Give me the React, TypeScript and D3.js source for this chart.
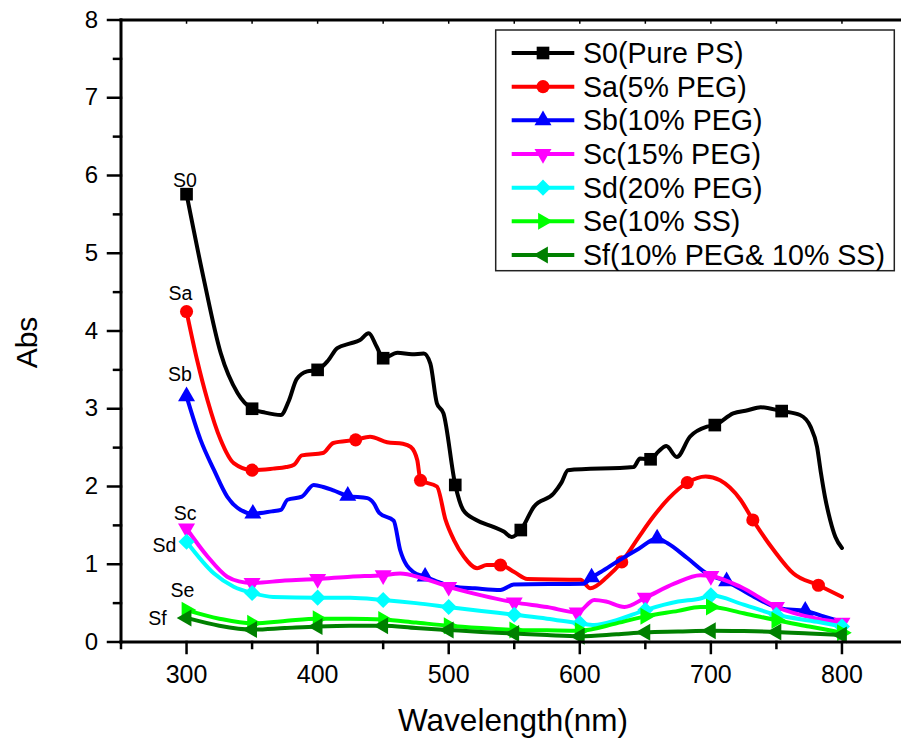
import React from 'react';
import * as d3 from 'd3';

// ---------- data ----------
const X_MAJOR_TICKS = [300, 400, 500, 600, 700, 800];
const X_MINOR_TICKS = [250, 350, 450, 550, 650, 750];
const Y_MAJOR_TICKS = [0, 1, 2, 3, 4, 5, 6, 7, 8];
const Y_MINOR_TICKS = [0.5, 1.5, 2.5, 3.5, 4.5, 5.5, 6.5, 7.5];

const SERIES_NAMES = [
  'S0(Pure PS)',
  'Sa(5% PEG)',
  'Sb(10% PEG)',
  'Sc(15% PEG)',
  'Sd(20% PEG)',
  'Se(10% SS)',
  'Sf(10% PEG& 10% SS)',
];
const SERIES_TAGS = ['S0', 'Sa', 'Sb', 'Sc', 'Sd', 'Se', 'Sf'];

const S0_POINTS: [number, number][] = [
  [300, 5.76], [313, 4.68], [326, 3.72], [339, 3.2], [350, 3.0], [360, 2.95], [372, 2.92],
  [378, 3.1], [384, 3.38], [392, 3.48], [400, 3.5], [408, 3.62], [415, 3.78], [425, 3.84],
  [432, 3.88], [439, 3.97], [445, 3.8], [450, 3.65], [461, 3.72], [472, 3.7], [481, 3.71],
  [486, 3.58], [491, 3.07], [496, 2.94], [505, 2.02], [511, 1.7], [521, 1.57], [534, 1.48],
  [542, 1.42], [548, 1.35], [555, 1.44], [565, 1.74], [580, 1.91], [586, 2.05], [591, 2.21],
  [641, 2.25], [646, 2.36], [654, 2.35], [660, 2.45], [666, 2.52], [674, 2.38], [684, 2.64],
  [697, 2.77], [703, 2.79], [717, 2.94], [728, 2.98], [738, 3.02], [754, 2.97], [768, 2.92],
  [776, 2.77], [781, 2.51], [784, 2.17], [787, 1.87], [791, 1.57], [795, 1.35], [800, 1.21],
];
const S0_MARKERS = [300, 350, 400, 450, 505, 555, 654, 703, 754];

const SA_POINTS: [number, number][] = [
  [300, 4.25], [308, 3.63], [316, 3.11], [326, 2.6], [336, 2.3], [350, 2.21], [366, 2.23],
  [376, 2.25], [382, 2.28], [388, 2.4], [404, 2.43], [412, 2.56], [429, 2.6], [440, 2.64],
  [453, 2.57], [465, 2.55], [471, 2.51], [476, 2.34], [478.5, 2.08], [491, 2.0], [497.6, 1.57],
  [504, 1.31], [511.5, 1.1], [521.7, 0.95], [529, 0.99], [539.5, 0.99], [550, 0.9], [560, 0.81],
  [600.5, 0.8], [608, 0.69], [621, 0.84], [632, 1.03], [645, 1.35], [656, 1.61], [668, 1.85],
  [682, 2.05], [696, 2.13], [707, 2.08], [722.6, 1.83], [732, 1.57], [748, 1.18], [763, 0.88],
  [782, 0.73], [800, 0.58],
];
const SA_MARKERS = [300, 350, 429, 478.5, 539.5, 632, 682, 732, 782];

const SB_POINTS: [number, number][] = [
  [300, 3.16], [310.7, 2.6], [321, 2.21], [331, 1.87], [341, 1.7], [350.6, 1.65], [365, 1.68],
  [372, 1.7], [377, 1.83], [388, 1.87], [397, 2.02], [405, 1.99], [412, 1.95], [423, 1.88],
  [438, 1.85], [443, 1.78], [447, 1.66], [458, 1.56], [463, 1.18], [473, 0.9], [482, 0.84],
  [494, 0.76], [504, 0.71], [520, 0.69], [539.5, 0.67], [549.6, 0.74], [603, 0.75], [609, 0.83],
  [616, 0.9], [630, 1.05], [645, 1.2], [659, 1.33], [667, 1.27], [682, 1.08], [697, 0.88],
  [712, 0.78], [733, 0.58], [753, 0.43], [772, 0.4], [786, 0.33], [800, 0.26],
];
const SB_MARKERS = [300, 350.6, 423, 482, 609, 659, 712, 772];

const SC_POINTS: [number, number][] = [
  [300, 1.46], [316, 1.1], [331, 0.84], [340, 0.78], [350, 0.76], [375, 0.79], [400, 0.81],
  [425, 0.84], [450, 0.86], [463, 0.88], [480, 0.82], [500, 0.71], [525, 0.6], [550, 0.51],
  [575, 0.45], [598, 0.38], [611, 0.54], [620, 0.52], [634, 0.45], [650, 0.57], [672, 0.75],
  [692, 0.86], [700, 0.85], [722.6, 0.71], [750, 0.45], [781, 0.3], [800, 0.25],
];
const SC_MARKERS = [300, 350, 400, 450, 500, 550, 598, 650, 700, 750, 800];

const SD_POINTS: [number, number][] = [
  [300, 1.29], [321, 0.88], [336, 0.71], [350, 0.63], [366, 0.58], [400, 0.57], [425, 0.57],
  [450, 0.54], [475, 0.5], [500, 0.45], [525, 0.4], [550, 0.35], [575, 0.3], [600, 0.24],
  [611, 0.22], [628, 0.28], [650, 0.41], [675, 0.52], [692, 0.56], [700, 0.6], [725, 0.48],
  [750, 0.35], [781, 0.26], [800, 0.2],
];
const SD_MARKERS = [300, 350, 400, 450, 500, 550, 600, 650, 700, 750, 800];

const SE_POINTS: [number, number][] = [
  [300, 0.41], [325, 0.3], [350, 0.24], [375, 0.27], [400, 0.3], [425, 0.3], [450, 0.29],
  [475, 0.25], [500, 0.21], [525, 0.18], [550, 0.155], [575, 0.15], [600, 0.145], [628, 0.24],
  [650, 0.33], [675, 0.4], [692, 0.45], [700, 0.45], [725, 0.37], [750, 0.28], [775, 0.2],
  [800, 0.12],
];
const SE_MARKERS = [300, 350, 400, 450, 500, 550, 600, 650, 700, 750, 800];

const SF_POINTS: [number, number][] = [
  [300, 0.31], [325, 0.21], [350, 0.16], [375, 0.18], [400, 0.2], [425, 0.21], [450, 0.21],
  [475, 0.18], [500, 0.155], [525, 0.13], [550, 0.11], [575, 0.09], [600, 0.075], [628, 0.1],
  [650, 0.125], [675, 0.135], [700, 0.145], [725, 0.14], [750, 0.13], [775, 0.11], [800, 0.09],
];
const SF_MARKERS = [300, 350, 400, 450, 500, 550, 600, 650, 700, 750, 800];

// ---------- styling ----------
const FONT = '"Liberation Sans", Arial, Helvetica, sans-serif';
const COLORS = ['#000000', '#ff0000', '#0000ff', '#ff00ff', '#00ffff', '#00ff00', '#008000'];
type Sym = 'square' | 'circle' | 'up' | 'down' | 'diamond' | 'right' | 'left';
const SYMBOLS: Sym[] = ['square', 'circle', 'up', 'down', 'diamond', 'right', 'left'];
// label offsets relative to first data point (px)
const TAG_OFFSETS: [number, number][] = [
  [-1.5, -7], [-6, -11.6], [-6.5, -15], [-1.5, -8.5], [-22, 10], [-4, -13], [-29, 7],
];

const W = 901;
const H = 738;
const M = { left: 121, top: 20, bottom: 642, right: 907.5 };

function symbolPath(sym: Sym): { d: string; rot: number } {
  switch (sym) {
    case 'square':
      return { d: d3.symbol(d3.symbolSquare, 160)() as string, rot: 0 };
    case 'circle':
      return { d: d3.symbol(d3.symbolCircle, 135)() as string, rot: 0 };
    case 'diamond':
      return { d: d3.symbol(d3.symbolSquare, 130)() as string, rot: 45 };
    case 'up':
      return { d: d3.symbol(d3.symbolTriangle, 125)() as string, rot: 0 };
    case 'down':
      return { d: d3.symbol(d3.symbolTriangle, 125)() as string, rot: 180 };
    case 'right':
      return { d: d3.symbol(d3.symbolTriangle, 125)() as string, rot: 90 };
    case 'left':
      return { d: d3.symbol(d3.symbolTriangle, 125)() as string, rot: -90 };
  }
}

export default function App() {
  const x = d3.scaleLinear().domain([250, 850]).range([M.left, M.right]);
  const y = d3.scaleLinear().domain([0, 8]).range([M.bottom, M.top]);

  const series = [
    { points: S0_POINTS, markers: S0_MARKERS },
    { points: SA_POINTS, markers: SA_MARKERS },
    { points: SB_POINTS, markers: SB_MARKERS },
    { points: SC_POINTS, markers: SC_MARKERS },
    { points: SD_POINTS, markers: SD_MARKERS },
    { points: SE_POINTS, markers: SE_MARKERS },
    { points: SF_POINTS, markers: SF_MARKERS },
  ].map((s, i) => ({
    ...s,
    name: SERIES_NAMES[i],
    tag: SERIES_TAGS[i],
    color: COLORS[i],
    sym: SYMBOLS[i],
  }));

  const line = d3
    .line<[number, number]>()
    .x((d) => x(d[0]))
    .y((d) => y(d[1]))
    .curve(d3.curveMonotoneX);

  const legendX0 = 511.7;
  const legendX1 = 574.3;
  const legendY0 = 53;
  const legendDY = 33.67;

  return (
    <svg
      width={W}
      height={H}
      style={{ position: 'absolute', left: 0, top: 0, background: '#fff' }}
      fontFamily={FONT}
    >
      <rect x={0} y={0} width={W} height={H} fill="#fff" />

      {/* series */}
      {series.map((s, i) => {
        const sp = symbolPath(s.sym);
        return (
          <g key={i}>
            <path
              d={line(s.points) as string}
              fill="none"
              stroke={s.color}
              strokeWidth={4}
              strokeLinejoin="round"
              strokeLinecap="round"
            />
            {s.markers.map((m, j) => {
              const p = s.points.find((q) => q[0] === m);
              if (!p) return null;
              return (
                <path
                  key={j}
                  d={sp.d}
                  fill={s.color}
                  transform={`translate(${x(p[0])},${y(p[1])}) rotate(${sp.rot})`}
                />
              );
            })}
            <text
              x={x(s.points[0][0]) + TAG_OFFSETS[i][0]}
              y={y(s.points[0][1]) + TAG_OFFSETS[i][1]}
              fontSize={19.5}
              textAnchor="middle"
              fill="#000"
            >
              {s.tag}
            </text>
          </g>
        );
      })}

      {/* axes */}
      <g stroke="#000" strokeLinecap="square">
        <line x1={M.left} y1={M.top} x2={M.left} y2={M.bottom} strokeWidth={3} />
        <line x1={M.left} y1={M.bottom} x2={W + 10} y2={M.bottom} strokeWidth={3} />
        <line x1={M.left} y1={M.top} x2={W + 10} y2={M.top} strokeWidth={3} />
        {Y_MAJOR_TICKS.map((t) => (
          <line key={'ym' + t} x1={M.left - 13} x2={M.left} y1={y(t)} y2={y(t)} strokeWidth={2.5} />
        ))}
        {Y_MINOR_TICKS.map((t) => (
          <line key={'yn' + t} x1={M.left - 7} x2={M.left} y1={y(t)} y2={y(t)} strokeWidth={2.5} />
        ))}
        {X_MAJOR_TICKS.map((t) => (
          <line key={'xm' + t} x1={x(t)} x2={x(t)} y1={M.bottom} y2={M.bottom + 11} strokeWidth={2.5} />
        ))}
        {X_MINOR_TICKS.map((t) => (
          <line key={'xn' + t} x1={x(t)} x2={x(t)} y1={M.bottom} y2={M.bottom + 6} strokeWidth={2.5} />
        ))}
        {[...X_MAJOR_TICKS, ...X_MINOR_TICKS].map((t) => (
          <line key={'xt' + t} x1={x(t)} x2={x(t)} y1={M.top} y2={M.top + 3} strokeWidth={1.5} />
        ))}
      </g>

      {/* tick labels */}
      {Y_MAJOR_TICKS.map((t) => (
        <text key={'yl' + t} x={98} y={y(t) + 7.5} fontSize={24} textAnchor="end" fill="#000">
          {t}
        </text>
      ))}
      {X_MAJOR_TICKS.map((t) => (
        <text key={'xl' + t} x={x(t)} y={683} fontSize={25} textAnchor="middle" fill="#000">
          {t}
        </text>
      ))}

      {/* axis titles */}
      <text x={513} y={731} fontSize={31.5} textAnchor="middle" fill="#000">
        Wavelength(nm)
      </text>
      <text
        transform="translate(36.5,342.5) rotate(-90)"
        fontSize={30}
        textAnchor="middle"
        fill="#000"
      >
        Abs
      </text>

      {/* legend */}
      <rect x={495.7} y={30} width={398.6} height={240.7} fill="#fff" stroke="#222" strokeWidth={1.5} />
      {series.map((s, i) => {
        const ly = legendY0 + i * legendDY;
        const sp = symbolPath(s.sym);
        return (
          <g key={'lg' + i}>
            <line x1={legendX0} x2={legendX1} y1={ly} y2={ly} stroke={s.color} strokeWidth={4} />
            <path d={sp.d} fill={s.color} transform={`translate(${(legendX0 + legendX1) / 2},${ly}) rotate(${sp.rot})`} />
            <text x={583} y={ly + 10} fontSize={28.6} fill="#000">
              {s.name}
            </text>
          </g>
        );
      })}
    </svg>
  );
}
